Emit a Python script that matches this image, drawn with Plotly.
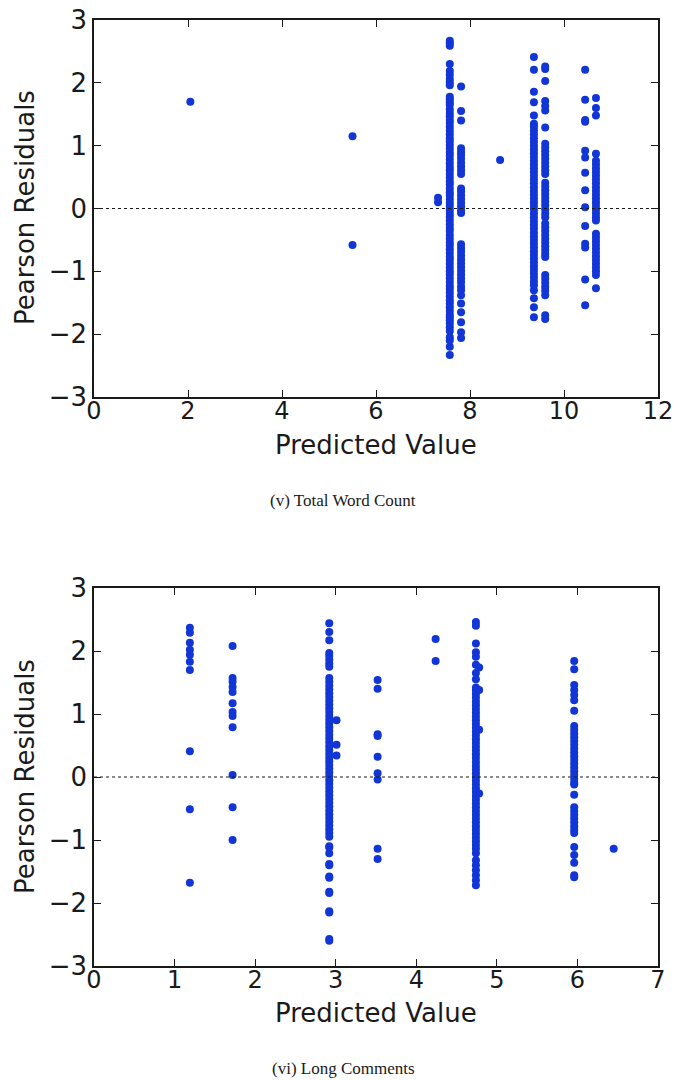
import plotly.graph_objects as go

# ---------------- data: (v) Total Word Count ----------------
top_x = [2.05, 5.50, 7.32, 7.57, 7.81, 8.64, 9.36, 9.60, 10.45, 10.68]
top_resid = [
    [1.70],
    [1.15, -0.58],
    [0.17, 0.10],
    [2.67, 2.63, 2.59, 2.30, 2.19, 2.13, 2.06, 2.01, 1.96, 1.78, 1.74, 1.69, 1.65, 1.58,
     1.52, 1.47, 1.41, 1.36, 1.30, 1.24, 1.18, 1.12, 1.07, 1.01, 0.95, 0.89, 0.84, 0.78,
     0.72, 0.66, 0.61, 0.55, 0.49, 0.43, 0.38, 0.32, 0.26, 0.21, 0.15, 0.09, 0.04, -0.02,
     -0.08, -0.13, -0.19, -0.25, -0.31, -0.36, -0.42, -0.48, -0.54, -0.59, -0.65, -0.71,
     -0.77, -0.82, -0.88, -0.94, -1.00, -1.05, -1.11, -1.17, -1.23, -1.28, -1.34, -1.40,
     -1.46, -1.51, -1.57, -1.63, -1.69, -1.73, -1.78, -1.83, -1.89, -1.95, -2.05, -2.10,
     -2.20, -2.33],
    [1.94, 1.55, 1.40, 0.96, 0.90, 0.85, 0.79, 0.73, 0.67, 0.61, 0.55, 0.32, 0.27, 0.21,
     0.15, 0.09, 0.03, -0.03, -0.07, -0.57, -0.63, -0.69, -0.75, -0.81, -0.87, -0.93,
     -0.99, -1.05, -1.11, -1.17, -1.24, -1.30, -1.38, -1.51, -1.65, -1.81, -1.97, -2.06],
    [0.77],
    [2.41, 2.21, 1.86, 1.69, 1.48, 1.35, 1.30, 1.24, 1.18, 1.12, 1.06, 1.00, 0.94, 0.88,
     0.82, 0.76, 0.70, 0.64, 0.58, 0.52, 0.46, 0.40, 0.34, 0.28, 0.22, 0.16, 0.10, 0.04,
     -0.02, -0.08, -0.14, -0.20, -0.26, -0.32, -0.38, -0.44, -0.50, -0.56, -0.62, -0.68,
     -0.74, -0.80, -0.86, -0.92, -0.98, -1.04, -1.10, -1.16, -1.22, -1.30, -1.43, -1.57,
     -1.73],
    [2.26, 2.22, 2.03, 1.71, 1.63, 1.56, 1.29, 1.03, 0.97, 0.91, 0.85, 0.79, 0.73, 0.67,
     0.61, 0.55, 0.41, 0.35, 0.29, 0.23, 0.17, 0.11, 0.05, -0.01, -0.08, -0.14, -0.24,
     -0.30, -0.36, -0.42, -0.48, -0.54, -0.60, -0.66, -0.72, -0.77, -1.06, -1.12, -1.18,
     -1.25, -1.31, -1.38, -1.70, -1.76],
    [2.21, 1.73, 1.41, 1.38, 0.92, 0.81, 0.57, 0.29, 0.02, -0.28, -0.56, -0.62, -1.13,
     -1.54],
    [1.76, 1.60, 1.48, 0.87, 0.76, 0.70, 0.64, 0.58, 0.52, 0.46, 0.40, 0.34, 0.28, 0.22,
     0.16, 0.10, 0.04, -0.02, -0.08, -0.14, -0.19, -0.40, -0.46, -0.52, -0.58, -0.64,
     -0.70, -0.76, -0.82, -0.88, -0.94, -1.00, -1.06, -1.27],
]

# ---------------- data: (vi) Long Comments ----------------
bot_x = [1.19, 1.72, 2.92, 3.01, 3.52, 4.24, 4.74, 4.78, 5.96, 6.45]
bot_resid = [
    [2.37, 2.29, 2.13, 2.02, 1.94, 1.83, 1.70, 0.41, -0.51, -1.68],
    [2.08, 1.57, 1.51, 1.43, 1.35, 1.17, 1.03, 0.97, 0.79, 0.03, -0.48, -1.00],
    [2.44, 2.30, 2.17, 1.97, 1.92, 1.86, 1.80, 1.75, 1.57, 1.51, 1.45, 1.39, 1.33, 1.27,
     1.21, 1.15, 1.09, 1.03, 0.97, 0.91, 0.85, 0.79, 0.73, 0.67, 0.61, 0.55, 0.49, 0.43,
     0.37, 0.31, 0.25, 0.19, 0.13, 0.07, 0.01, -0.05, -0.11, -0.17, -0.23, -0.29, -0.35,
     -0.41, -0.47, -0.53, -0.59, -0.65, -0.71, -0.77, -0.83, -0.89, -0.95, -1.10, -1.12,
     -1.21, -1.38, -1.40, -1.58, -1.60, -1.82, -1.84, -2.13, -2.15, -2.57, -2.60],
    [0.90, 0.51, 0.34],
    [1.54, 1.40, 0.68, 0.65, 0.32, 0.06, -0.04, -1.14, -1.30],
    [2.19, 1.84],
    [2.46, 2.40, 2.12, 1.98, 1.91, 1.78, 1.65, 1.55, 1.42, 1.38, 1.32, 1.26, 1.20, 1.14,
     1.08, 1.02, 0.96, 0.90, 0.84, 0.78, 0.72, 0.66, 0.60, 0.54, 0.48, 0.42, 0.36, 0.30,
     0.24, 0.18, 0.12, 0.06, 0.00, -0.06, -0.12, -0.18, -0.24, -0.30, -0.36, -0.42, -0.48,
     -0.54, -0.60, -0.66, -0.72, -0.78, -0.84, -0.90, -0.96, -1.02, -1.08, -1.14, -1.21,
     -1.32, -1.40, -1.48, -1.56, -1.64, -1.72],
    [1.74, 1.38, 0.75, -0.26],
    [1.84, 1.71, 1.46, 1.38, 1.30, 1.22, 1.05, 0.81, 0.75, 0.69, 0.63, 0.57, 0.51, 0.45,
     0.39, 0.33, 0.27, 0.21, 0.15, 0.09, 0.03, -0.03, -0.09, -0.12, -0.28, -0.48, -0.54,
     -0.60, -0.66, -0.72, -0.78, -0.84, -0.89, -1.11, -1.24, -1.36, -1.56, -1.59],
    [-1.14],
]

x_ticks_top = [0, 2, 4, 6, 8, 10, 12]
x_ticks_bot = [0, 1, 2, 3, 4, 5, 6, 7]
y_ticks = [-3, -2, -1, 0, 1, 2, 3]

x_title = "Predicted Value"
y_title = "Pearson Residuals"
captions = ["(v) Total Word Count", "(vi) Long Comments"]

MARKER = "#1236d6"
W, H = 673, 1080


def flatten(xs, groups):
    fx, fy = [], []
    for x, g in zip(xs, groups):
        for v in g:
            fx.append(x)
            fy.append(v)
    return fx, fy


fig = go.Figure()
tx, ty = flatten(top_x, top_resid)
bx, by = flatten(bot_x, bot_resid)
fig.add_trace(go.Scatter(x=tx, y=ty, mode="markers", xaxis="x", yaxis="y",
                         marker=dict(size=8, color=MARKER, line=dict(width=0)),
                         showlegend=False))
fig.add_trace(go.Scatter(x=bx, y=by, mode="markers", xaxis="x2", yaxis="y2",
                         marker=dict(size=8, color=MARKER, line=dict(width=0)),
                         showlegend=False))

FONT = "DejaVu Sans"
px_l, px_r = 94, 658
xdom = [px_l / W, px_r / W]
top_dom = [1 - 397 / H, 1 - 20 / H]
bot_dom = [1 - 966 / H, 1 - 588 / H]

axis_common = dict(showline=True, linecolor="#1a1a1a", linewidth=1.5, mirror="ticks",
                   ticks="inside", ticklen=7, tickwidth=1, tickcolor="#1a1a1a",
                   showgrid=False, zeroline=False, automargin=False,
                   ticklabeloverflow="allow")
xaxis_extra = dict(ticklabelstandoff=-9, tickfont=dict(family=FONT, size=24, color="#1a1a1a"))
yaxis_extra = dict(tickfont=dict(family=FONT, size=26, color="#1a1a1a"))

fig.update_layout(
    width=W, height=H, margin=dict(l=0, r=0, t=0, b=0, autoexpand=False),
    paper_bgcolor="white", plot_bgcolor="white",
    xaxis=dict(domain=xdom, anchor="y", range=[0, 12], tickvals=x_ticks_top,
               **axis_common, **xaxis_extra),
    yaxis=dict(domain=top_dom, anchor="x", range=[-3, 3], tickvals=y_ticks,
               **axis_common, **yaxis_extra),
    xaxis2=dict(domain=xdom, anchor="y2", range=[0, 7], tickvals=x_ticks_bot,
                **axis_common, **xaxis_extra),
    yaxis2=dict(domain=bot_dom, anchor="x2", range=[-3, 3], tickvals=y_ticks,
                **axis_common, **yaxis_extra),
)

for xr, yr in (("x", "y"), ("x2", "y2")):
    fig.add_shape(type="line", xref=f"{xr} domain", yref=yr, x0=0, x1=1, y0=0, y1=0,
                  line=dict(color="#1a1a1a", width=1.2, dash="dot"))

xc = (px_l + px_r) / 2 / W
annots = [
    (xc, 1 - 445 / H, x_title, 0),
    (xc, 1 - 1013 / H, x_title, 0),
    (25 / W, 1 - 208 / H, y_title, -90),
    (25 / W, 1 - 777 / H, y_title, -90),
]
for x, y, t, ang in annots:
    fig.add_annotation(x=x, y=y, xref="paper", yref="paper", text=t, showarrow=False,
                       textangle=ang, xanchor="center", yanchor="middle",
                       font=dict(family=FONT, size=26, color="#1a1a1a"))

for y, t in ((1 - 500 / H, captions[0]), (1 - 1068 / H, captions[1])):
    fig.add_annotation(x=343 / W, y=y, xref="paper", yref="paper", text=t, showarrow=False,
                       xanchor="center", yanchor="middle",
                       font=dict(family="Liberation Serif", size=17, color="#1a1a1a"))

fig.write_html("out.html", config={"displayModeBar": False},
               post_script="document.body.style.margin='0';document.body.style.padding='0';")
